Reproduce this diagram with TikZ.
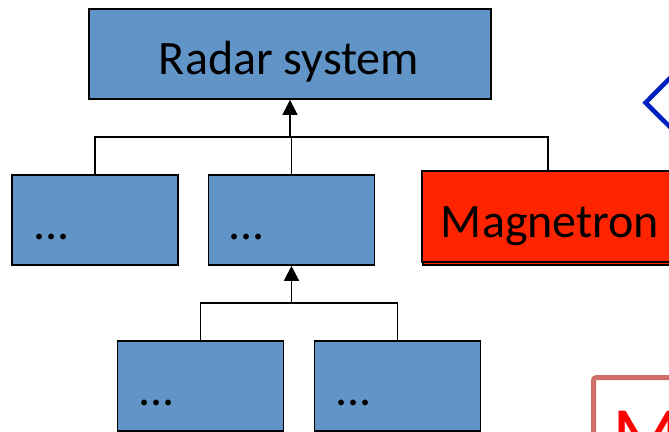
\documentclass[tikz,border=0pt]{standalone}
\usepackage{fontspec}
\setmainfont{Carlito}
\usetikzlibrary{arrows.meta,shadows}
\definecolor{boxblue}{RGB}{97,149,200}
\definecolor{magred}{RGB}{255,36,0}
\definecolor{navy}{RGB}{0,32,192}
\definecolor{rosered}{RGB}{208,110,105}
\definecolor{pure}{RGB}{255,0,0}
\begin{document}
\begin{tikzpicture}[x=1pt,y=-1pt,
  blk/.style={draw=black,line width=1.8pt,fill=boxblue,inner sep=0pt,
    minimum width=166pt,minimum height=90pt},
  big/.style={font=\fontsize{48}{58}\selectfont},
  lbl/.style={big,anchor=base,inner sep=0pt},
  dots/.style={big,anchor=base west,inner sep=0pt},
  link/.style={line width=1.7pt},
  up/.style={link,-{Triangle[width=15pt,length=15pt]}}]
\useasboundingbox (0,0) rectangle (669,431);
\clip (0,0) rectangle (669,431);

% top level
\node[blk,minimum width=402pt] (top) at (290,54) {};
\node[lbl] (topt) at (289,74) {Radar system};

% second level
\node[blk] (la) at (95,220) {};
\node[blk] (lb) at (291.5,220) {};
\node[blk,fill=magred,minimum width=252pt,minimum height=91pt,
  general shadow={shadow xshift=1pt,shadow yshift=-3pt,fill=magred,draw=black,line width=1.8pt}]
  (mag) at (548,216.5) {};
\node[lbl] (magt) at (550,237) {Magnetron};
\node[dots] (lat) at (33,239.5) {...};
\node[dots] (lbt) at (228,239.5) {...};

% third level
\node[blk] (ba) at (200.5,386) {};
\node[blk] (bb) at (397.5,386) {};
\node[dots] (bat) at (138,405.5) {...};
\node[dots] (bbt) at (335,405.5) {...};

% tree connectors
\coordinate (j1) at (290,137);
\draw[link] (la.north) |- (j1);
\draw[link] (mag.north) |- (j1);
\draw[link] (lb.north) -- (lb.north |- j1);
\draw[up] (j1) -- (j1 |- top.south);

\coordinate (j2) at (lb.south |- 0,303);
\draw[link] (ba.north) |- (j2);
\draw[link] (bb.north) |- (j2);
\draw[up] (j2) -- (lb.south);

% blue chevron on the right
\draw[navy,line width=4.5pt,miter limit=10] (675,73) -- (645.5,102.7) -- (675,132);

% framed box with red lettering
\draw[rosered,line width=5pt,rounded corners=3pt] (593.5,377.5) rectangle (720,520);
\node[anchor=base west,inner sep=0pt,text=pure,font=\fontsize{80}{96}\selectfont] (mt) at (612,462) {M};
\end{tikzpicture}
\end{document}
